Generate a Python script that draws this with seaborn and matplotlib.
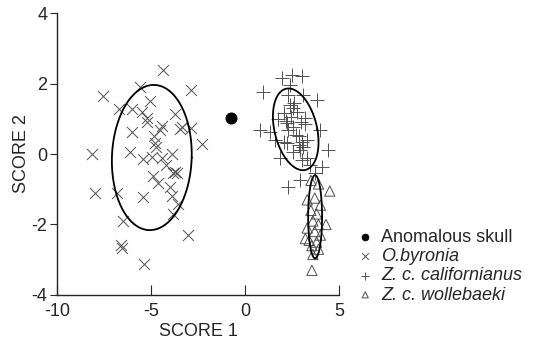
import numpy as np
import pandas as pd
import matplotlib
matplotlib.use('Agg')
import matplotlib.pyplot as plt
import seaborn as sns

# Discriminant scores
byronia_x = [-4.38, -7.54, -5.59, -2.87, -5.05, -6.69, -6.03, -5.50, -5.20, -5.20,
             -3.72, -4.43, -4.52, -3.37, -2.89, -6.03, -2.30, -4.79, -4.73, -8.12,
             -6.12, -5.41, -4.96, -4.43, -3.90, -4.20, -3.81, -3.63, -4.88, -4.61,
             -3.99, -3.90, -7.98, -6.79, -5.45, -3.55, -3.81, -6.47, -3.02, -6.60,
             -6.54, -5.37, -3.72, -4.85, -3.45]
byronia_y = [2.37, 1.65, 1.89, 1.82, 1.49, 1.27, 1.27, 1.20, 1.01, 0.92,
             1.14, 0.80, 0.68, 0.78, 0.73, 0.63, 0.28, 0.30, 0.21, 0.00,
             0.06, -0.15, -0.09, -0.12, 0.00, -0.31, -0.55, -0.53, -0.63, -0.83,
             -0.93, -1.19, -1.10, -1.10, -1.23, -1.42, -1.69, -1.89, -2.30, -2.59,
             -2.68, -3.11, -0.50, 0.52, 0.70]

calif_x = [1.95, 2.48, 3.01, 0.97, 2.39, 3.81, 3.10, 2.30, 2.39, 2.57,
           2.04, 3.19, 2.22, 0.80, 1.33, 2.30, 3.99, 1.60, 2.04, 2.84,
           3.01, 3.28, 4.43, 2.93, 1.86, 3.01, 3.28, 4.08, 3.72, 2.93,
           2.30, 2.57, 2.62, 2.75, 2.45, 2.95, 3.10, 2.20, 2.70, 2.85,
           3.20, 1.75, 2.55, 3.45, 2.15]
calif_y = [2.15, 2.24, 2.20, 1.77, 1.96, 1.53, 1.68, 1.68, 1.39, 1.30,
           1.16, 1.01, 0.87, 0.68, 0.63, 0.68, 0.68, 0.40, 0.35, 0.50,
           0.35, 0.40, 0.11, 0.11, -0.12, -0.17, -0.12, -0.36, -0.55, -0.74,
           -0.93, 0.78, 1.45, 1.20, 1.05, 0.90, 0.20, 0.30, 0.55, 0.25,
           0.85, 1.00, 0.05, -0.30, 0.95]

woll_x = [3.50, 3.90, 4.50, 3.30, 3.70, 4.00, 3.50, 3.80, 3.60, 3.90,
          3.30, 3.70, 4.00, 3.40, 3.80, 3.55, 3.90, 3.60, 3.55, 4.30, 3.20]
woll_y = [-0.75, -0.85, -1.05, -1.30, -1.25, -1.45, -1.60, -1.70, -1.90, -2.00,
          -2.10, -2.20, -2.30, -2.45, -2.50, -2.60, -2.70, -2.85, -3.30, -2.00, -2.40]

skull_x = [-0.74]
skull_y = [1.02]

groups = ['Anomalous skull', 'O.byronia', 'Z. c. californianus', 'Z. c. wollebaeki']

# ellipse parameters: centre x, centre y, half width, half height, shear
ell_cx = [-4.96, 2.69, 3.72]
ell_cy = [-0.10, 0.70, -1.78]
ell_rx = [2.12, 1.15, 0.37]
ell_ry = [2.06, 1.16, 1.18]
ell_k = [0.05, -0.33, 0.0]

df = pd.concat([
    pd.DataFrame({'s1': skull_x, 's2': skull_y, 'group': groups[0]}),
    pd.DataFrame({'s1': byronia_x, 's2': byronia_y, 'group': groups[1]}),
    pd.DataFrame({'s1': calif_x, 's2': calif_y, 'group': groups[2]}),
    pd.DataFrame({'s1': woll_x, 's2': woll_y, 'group': groups[3]}),
])

sns.set_style('ticks')
plt.rcParams['font.family'] = ['Liberation Sans', 'DejaVu Sans']
plt.rcParams['axes.unicode_minus'] = False

fig = plt.figure(figsize=(5.35, 3.43), dpi=100)
ax = fig.add_axes([0.1065, 0.14, 0.5275, 0.822])

grey = '#505050'
sns.scatterplot(data=df[df.group == groups[0]], x='s1', y='s2', marker='o', s=64,
                color='black', edgecolor='black', label=groups[0], ax=ax)
sns.scatterplot(data=df[df.group == groups[1]], x='s1', y='s2', marker='x', s=62,
                color=grey, linewidth=0.7, label=groups[1], ax=ax)
sns.scatterplot(data=df[df.group == groups[2]], x='s1', y='s2', marker='+', s=95,
                color=grey, linewidth=0.7, label=groups[2], ax=ax)
sns.scatterplot(data=df[df.group == groups[3]], x='s1', y='s2', marker='^', s=55,
                facecolor='none', edgecolor=grey, linewidth=0.7, label=groups[3], ax=ax)

t = np.linspace(0, 2 * np.pi, 200)
for cx, cy, rx, ry, k in zip(ell_cx, ell_cy, ell_rx, ell_ry, ell_k):
    ax.plot(cx + rx * np.cos(t) + k * ry * np.sin(t), cy + ry * np.sin(t),
            color='black', lw=1.3)

ax.set_xlim(-10, 5)
ax.set_ylim(-4, 4)
ax.set_xticks([-10, -5, 0, 5])
ax.set_yticks([-4, -2, 0, 2, 4])
ax.tick_params(axis='x', direction='in', length=7, width=0.8, labelsize=13, pad=6)
ax.tick_params(axis='y', direction='out', length=5, width=0.8, labelsize=13, pad=2)
ax.set_xlabel('SCORE 1', fontsize=13, labelpad=2)
ax.set_ylabel('SCORE 2', fontsize=13, labelpad=1)
sns.despine(ax=ax)
for sp in ['left', 'bottom']:
    ax.spines[sp].set_linewidth(1.0)

handles, labels = ax.get_legend_handles_labels()
ax.get_legend().remove()
leg = fig.legend(handles, labels, loc='upper left', bbox_to_anchor=(358 / 535, 1 - 229 / 343),
                 frameon=False, fontsize=13, markerscale=0.6, handlelength=0.8,
                 handletextpad=0.5, labelspacing=0.12, borderpad=0, borderaxespad=0)
for txt in leg.get_texts()[1:]:
    txt.set_style('italic')

fig.savefig('out.png', dpi=100)
